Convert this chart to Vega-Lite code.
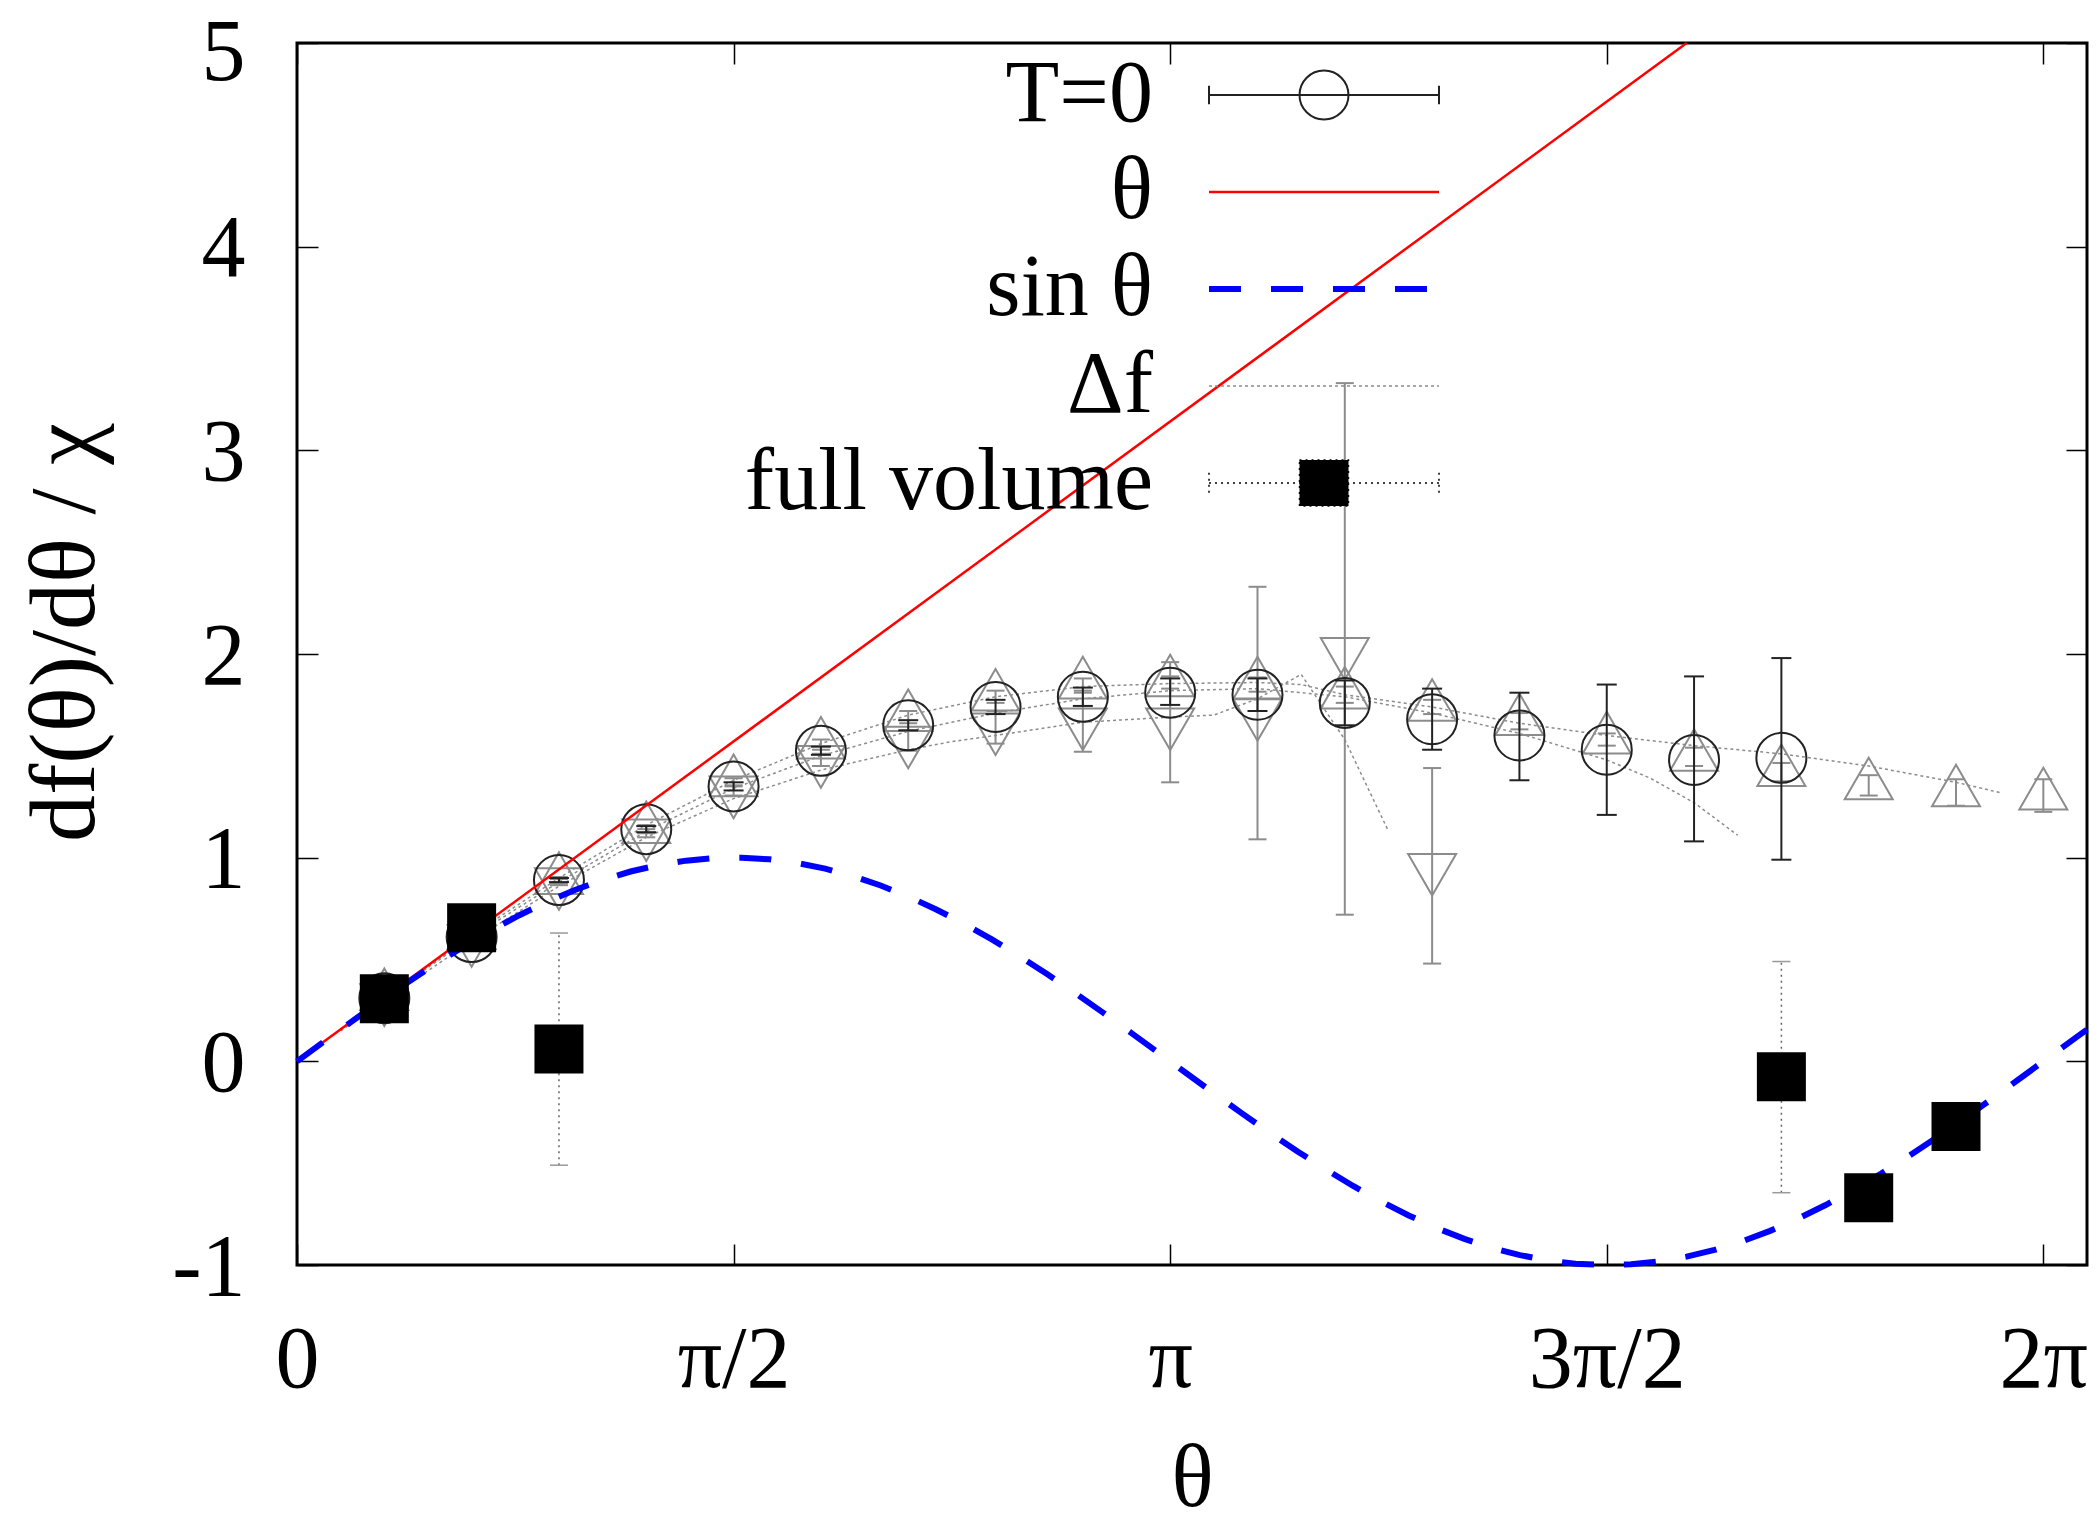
{
  "$schema": "https://vega.github.io/schema/vega-lite/v6.json",
  "width": 1790,
  "height": 1222,
  "autosize": "none",
  "padding": {"left": 297, "top": 43, "right": 12, "bottom": 258},
  "background": "white",
  "config": {
    "view": {"stroke": "black", "strokeWidth": 3},
    "font": "Liberation Serif, Times New Roman, Times, serif"
  },
  "resolve": {"axis": {"x": "independent", "y": "independent"}},
  "datasets": {
    "T0": [
      {"t": 0.3142, "v": 0.31, "lo": 0.305, "hi": 0.315},
      {"t": 0.6283, "v": 0.61, "lo": 0.6, "hi": 0.62},
      {"t": 0.9425, "v": 0.89, "lo": 0.88, "hi": 0.9},
      {"t": 1.2566, "v": 1.14, "lo": 1.125, "hi": 1.155},
      {"t": 1.5708, "v": 1.35, "lo": 1.33, "hi": 1.37},
      {"t": 1.885, "v": 1.525, "lo": 1.505, "hi": 1.545},
      {"t": 2.1991, "v": 1.65, "lo": 1.625, "hi": 1.675},
      {"t": 2.5133, "v": 1.74, "lo": 1.705, "hi": 1.775},
      {"t": 2.8274, "v": 1.79, "lo": 1.745, "hi": 1.835},
      {"t": 3.1416, "v": 1.81, "lo": 1.75, "hi": 1.88},
      {"t": 3.4558, "v": 1.8, "lo": 1.72, "hi": 1.88},
      {"t": 3.7699, "v": 1.76, "lo": 1.65, "hi": 1.87},
      {"t": 4.0841, "v": 1.68, "lo": 1.53, "hi": 1.83},
      {"t": 4.3982, "v": 1.6, "lo": 1.38, "hi": 1.81},
      {"t": 4.7124, "v": 1.53, "lo": 1.21, "hi": 1.85},
      {"t": 5.0265, "v": 1.48, "lo": 1.08, "hi": 1.89},
      {"t": 5.3407, "v": 1.49, "lo": 0.99, "hi": 1.98}
    ],
    "up": [
      {"t": 0.3142, "v": 0.32, "lo": 0.31, "hi": 0.33},
      {"t": 0.6283, "v": 0.62, "lo": 0.61, "hi": 0.63},
      {"t": 0.9425, "v": 0.89, "lo": 0.875, "hi": 0.905},
      {"t": 1.2566, "v": 1.14, "lo": 1.12, "hi": 1.16},
      {"t": 1.5708, "v": 1.37, "lo": 1.35, "hi": 1.39},
      {"t": 1.885, "v": 1.555, "lo": 1.53, "hi": 1.58},
      {"t": 2.1991, "v": 1.69, "lo": 1.66, "hi": 1.72},
      {"t": 2.5133, "v": 1.79, "lo": 1.76, "hi": 1.82},
      {"t": 2.8274, "v": 1.85, "lo": 1.82, "hi": 1.88},
      {"t": 3.1416, "v": 1.86, "lo": 1.83, "hi": 1.89},
      {"t": 3.4558, "v": 1.85, "lo": 1.815, "hi": 1.885},
      {"t": 3.7699, "v": 1.8, "lo": 1.76, "hi": 1.84},
      {"t": 4.0841, "v": 1.74, "lo": 1.705, "hi": 1.775},
      {"t": 4.3982, "v": 1.67, "lo": 1.63, "hi": 1.71},
      {"t": 4.7124, "v": 1.58, "lo": 1.55, "hi": 1.61},
      {"t": 5.0265, "v": 1.495, "lo": 1.45, "hi": 1.54},
      {"t": 5.3407, "v": 1.42, "lo": 1.375, "hi": 1.465},
      {"t": 5.6549, "v": 1.355, "lo": 1.305, "hi": 1.405},
      {"t": 5.969, "v": 1.32, "lo": 1.255, "hi": 1.385},
      {"t": 6.2832, "v": 1.305, "lo": 1.225, "hi": 1.385}
    ],
    "down": [
      {"t": 0.3142, "v": 0.31, "lo": 0.3, "hi": 0.32},
      {"t": 0.6283, "v": 0.6, "lo": 0.59, "hi": 0.61},
      {"t": 0.9425, "v": 0.88, "lo": 0.865, "hi": 0.895},
      {"t": 1.2566, "v": 1.12, "lo": 1.1, "hi": 1.14},
      {"t": 1.5708, "v": 1.33, "lo": 1.305, "hi": 1.355},
      {"t": 1.885, "v": 1.48, "lo": 1.45, "hi": 1.51},
      {"t": 2.1991, "v": 1.575, "lo": 1.525, "hi": 1.625},
      {"t": 2.5133, "v": 1.64, "lo": 1.56, "hi": 1.72},
      {"t": 2.8274, "v": 1.665, "lo": 1.52, "hi": 1.81},
      {"t": 3.1416, "v": 1.665, "lo": 1.37, "hi": 1.96},
      {"t": 3.4558, "v": 1.71, "lo": 1.09, "hi": 2.33},
      {"t": 3.7699, "v": 2.01, "lo": 0.72, "hi": 3.33},
      {"t": 4.0841, "v": 0.95, "lo": 0.48, "hi": 1.44}
    ],
    "df": [
      {"grp": "U", "t": 0.157, "v": 0.16},
      {"grp": "U", "t": 0.3142, "v": 0.31},
      {"grp": "U", "t": 0.6283, "v": 0.62},
      {"grp": "U", "t": 0.9425, "v": 0.9},
      {"grp": "U", "t": 1.2566, "v": 1.16},
      {"grp": "U", "t": 1.5708, "v": 1.38},
      {"grp": "U", "t": 1.885, "v": 1.56},
      {"grp": "U", "t": 2.1991, "v": 1.7},
      {"grp": "U", "t": 2.5133, "v": 1.79},
      {"grp": "U", "t": 2.8274, "v": 1.84},
      {"grp": "U", "t": 3.1416, "v": 1.855},
      {"grp": "U", "t": 3.4558, "v": 1.86},
      {"grp": "U", "t": 3.6128, "v": 1.85},
      {"grp": "U", "t": 3.7699, "v": 1.8},
      {"grp": "U", "t": 4.0841, "v": 1.74},
      {"grp": "U", "t": 4.3982, "v": 1.66},
      {"grp": "U", "t": 4.7124, "v": 1.6},
      {"grp": "U", "t": 5.0265, "v": 1.55},
      {"grp": "U", "t": 5.3407, "v": 1.51},
      {"grp": "U", "t": 5.6549, "v": 1.45},
      {"grp": "U", "t": 5.969, "v": 1.37},
      {"grp": "U", "t": 6.1261, "v": 1.32},
      {"grp": "M", "t": 0.157, "v": 0.155},
      {"grp": "M", "t": 0.3142, "v": 0.31},
      {"grp": "M", "t": 0.6283, "v": 0.61},
      {"grp": "M", "t": 0.9425, "v": 0.88},
      {"grp": "M", "t": 1.2566, "v": 1.13},
      {"grp": "M", "t": 1.5708, "v": 1.34},
      {"grp": "M", "t": 1.885, "v": 1.5},
      {"grp": "M", "t": 2.1991, "v": 1.62},
      {"grp": "M", "t": 2.5133, "v": 1.71},
      {"grp": "M", "t": 2.8274, "v": 1.78},
      {"grp": "M", "t": 3.1416, "v": 1.82},
      {"grp": "M", "t": 3.4558, "v": 1.83},
      {"grp": "M", "t": 3.7699, "v": 1.79},
      {"grp": "M", "t": 4.0841, "v": 1.71},
      {"grp": "M", "t": 4.3982, "v": 1.61},
      {"grp": "M", "t": 4.7124, "v": 1.48},
      {"grp": "M", "t": 4.8695, "v": 1.39},
      {"grp": "M", "t": 5.0265, "v": 1.27},
      {"grp": "M", "t": 5.1836, "v": 1.11},
      {"grp": "L", "t": 0.157, "v": 0.15},
      {"grp": "L", "t": 0.3142, "v": 0.3},
      {"grp": "L", "t": 0.6283, "v": 0.59},
      {"grp": "L", "t": 0.9425, "v": 0.86},
      {"grp": "L", "t": 1.2566, "v": 1.1},
      {"grp": "L", "t": 1.5708, "v": 1.29},
      {"grp": "L", "t": 1.885, "v": 1.43},
      {"grp": "L", "t": 2.1991, "v": 1.53},
      {"grp": "L", "t": 2.3562, "v": 1.57},
      {"grp": "L", "t": 2.5133, "v": 1.6},
      {"grp": "L", "t": 2.8274, "v": 1.665},
      {"grp": "L", "t": 3.1416, "v": 1.69},
      {"grp": "L", "t": 3.2987, "v": 1.7},
      {"grp": "L", "t": 3.4558, "v": 1.78},
      {"grp": "L", "t": 3.6128, "v": 1.9},
      {"grp": "L", "t": 3.7699, "v": 1.58},
      {"grp": "L", "t": 3.927, "v": 1.13}
    ],
    "fv": [
      {"t": 0.3142, "v": 0.307},
      {"t": 0.6283, "v": 0.656},
      {"t": 0.9425, "v": 0.06},
      {"t": 5.3407, "v": -0.076},
      {"t": 5.6549, "v": -0.67},
      {"t": 5.969, "v": -0.32}
    ],
    "fverr": [
      {"t": 0.9425, "lo": -0.51, "hi": 0.63},
      {"t": 5.3407, "lo": -0.645, "hi": 0.49}
    ],
    "theta": [
      {"t": 0, "v": 0, "series": "θ"},
      {"t": 5, "v": 5, "series": "θ"}
    ],
    "sin": [
      {"t": 0, "v": 0}, {"t": 0.1, "v": 0.0998}, {"t": 0.2, "v": 0.1987}, {"t": 0.3, "v": 0.2955},
      {"t": 0.4, "v": 0.3894}, {"t": 0.5, "v": 0.4794}, {"t": 0.6, "v": 0.5646}, {"t": 0.7, "v": 0.6442},
      {"t": 0.8, "v": 0.7174}, {"t": 0.9, "v": 0.7833}, {"t": 1.0, "v": 0.8415}, {"t": 1.1, "v": 0.8912},
      {"t": 1.2, "v": 0.932}, {"t": 1.3, "v": 0.9636}, {"t": 1.4, "v": 0.9854}, {"t": 1.5, "v": 0.9975},
      {"t": 1.6, "v": 0.9996}, {"t": 1.7, "v": 0.9917}, {"t": 1.8, "v": 0.9738}, {"t": 1.9, "v": 0.9463},
      {"t": 2.0, "v": 0.9093}, {"t": 2.1, "v": 0.8632}, {"t": 2.2, "v": 0.8085}, {"t": 2.3, "v": 0.7457},
      {"t": 2.4, "v": 0.6755}, {"t": 2.5, "v": 0.5985}, {"t": 2.6, "v": 0.5155}, {"t": 2.7, "v": 0.4274},
      {"t": 2.8, "v": 0.335}, {"t": 2.9, "v": 0.2392}, {"t": 3.0, "v": 0.1411}, {"t": 3.1, "v": 0.0416},
      {"t": 3.2, "v": -0.0584}, {"t": 3.3, "v": -0.1577}, {"t": 3.4, "v": -0.2555}, {"t": 3.5, "v": -0.3508},
      {"t": 3.6, "v": -0.4425}, {"t": 3.7, "v": -0.5298}, {"t": 3.8, "v": -0.6119}, {"t": 3.9, "v": -0.6878},
      {"t": 4.0, "v": -0.7568}, {"t": 4.1, "v": -0.8183}, {"t": 4.2, "v": -0.8716}, {"t": 4.3, "v": -0.9162},
      {"t": 4.4, "v": -0.9516}, {"t": 4.5, "v": -0.9775}, {"t": 4.6, "v": -0.9937}, {"t": 4.7, "v": -0.9999},
      {"t": 4.8, "v": -0.9962}, {"t": 4.9, "v": -0.9825}, {"t": 5.0, "v": -0.9589}, {"t": 5.1, "v": -0.9258},
      {"t": 5.2, "v": -0.8835}, {"t": 5.3, "v": -0.8323}, {"t": 5.4, "v": -0.7728}, {"t": 5.5, "v": -0.7055},
      {"t": 5.6, "v": -0.6313}, {"t": 5.7, "v": -0.5507}, {"t": 5.8, "v": -0.4646}, {"t": 5.9, "v": -0.3739},
      {"t": 6.0, "v": -0.2794}, {"t": 6.1, "v": -0.1822}, {"t": 6.2, "v": -0.0831}, {"t": 6.3, "v": 0.0168},
      {"t": 6.4, "v": 0.1165}, {"t": 6.44, "v": 0.156}
    ]
  },
  "encoding": {
    "x": {"field": "t", "type": "quantitative", "scale": {"domain": [0, 6.4403], "nice": false, "zero": false}, "axis": null}
  },
  "layer": [
    {
      "data": {"name": "df"},
      "mark": {"type": "line", "strokeDash": [3, 3], "strokeWidth": 1.5, "color": "#8c8c8c"},
      "encoding": {
        "y": {"field": "v", "type": "quantitative", "scale": {"domain": [-1, 5], "nice": false, "zero": false}, "axis": null},
        "detail": {"field": "grp", "type": "nominal"}
      }
    },
    {
      "data": {"name": "down"},
      "mark": {"type": "rule", "color": "#8c8c8c", "strokeWidth": 2},
      "encoding": {
        "y": {"field": "lo", "type": "quantitative", "scale": {"domain": [-1, 5], "nice": false, "zero": false}, "axis": null},
        "y2": {"field": "hi"}
      }
    },
    {
      "data": {"name": "down"},
      "mark": {"type": "tick", "orient": "horizontal", "color": "#8c8c8c", "size": 18, "thickness": 2, "opacity": 1},
      "encoding": {"y": {"field": "lo", "type": "quantitative", "scale": {"domain": [-1, 5], "nice": false, "zero": false}, "axis": null}}
    },
    {
      "data": {"name": "down"},
      "mark": {"type": "tick", "orient": "horizontal", "color": "#8c8c8c", "size": 18, "thickness": 2, "opacity": 1},
      "encoding": {"y": {"field": "hi", "type": "quantitative", "scale": {"domain": [-1, 5], "nice": false, "zero": false}, "axis": null}}
    },
    {
      "data": {"name": "up"},
      "mark": {"type": "rule", "color": "#8c8c8c", "strokeWidth": 2},
      "encoding": {
        "y": {"field": "lo", "type": "quantitative", "scale": {"domain": [-1, 5], "nice": false, "zero": false}, "axis": null},
        "y2": {"field": "hi"}
      }
    },
    {
      "data": {"name": "up"},
      "mark": {"type": "tick", "orient": "horizontal", "color": "#8c8c8c", "size": 18, "thickness": 2, "opacity": 1},
      "encoding": {"y": {"field": "lo", "type": "quantitative", "scale": {"domain": [-1, 5], "nice": false, "zero": false}, "axis": null}}
    },
    {
      "data": {"name": "up"},
      "mark": {"type": "tick", "orient": "horizontal", "color": "#8c8c8c", "size": 18, "thickness": 2, "opacity": 1},
      "encoding": {"y": {"field": "hi", "type": "quantitative", "scale": {"domain": [-1, 5], "nice": false, "zero": false}, "axis": null}}
    },
    {
      "data": {"name": "down"},
      "mark": {"type": "point", "shape": "M0,1.155L1,-0.577L-1,-0.577Z", "size": 2304, "filled": false, "color": "#8c8c8c", "strokeWidth": 2, "opacity": 1},
      "encoding": {"y": {"field": "v", "type": "quantitative", "scale": {"domain": [-1, 5], "nice": false, "zero": false}, "axis": null}}
    },
    {
      "data": {"name": "up"},
      "mark": {"type": "point", "shape": "M0,-1.155L1,0.577L-1,0.577Z", "size": 2304, "filled": false, "color": "#8c8c8c", "strokeWidth": 2, "opacity": 1},
      "encoding": {"y": {"field": "v", "type": "quantitative", "scale": {"domain": [-1, 5], "nice": false, "zero": false}, "axis": null}}
    },
    {
      "data": {"name": "T0"},
      "mark": {"type": "rule", "color": "#222222", "strokeWidth": 2},
      "encoding": {
        "y": {"field": "lo", "type": "quantitative", "scale": {"domain": [-1, 5], "nice": false, "zero": false}, "axis": null},
        "y2": {"field": "hi"}
      }
    },
    {
      "data": {"name": "T0"},
      "mark": {"type": "tick", "orient": "horizontal", "color": "#222222", "size": 20, "thickness": 2, "opacity": 1},
      "encoding": {"y": {"field": "lo", "type": "quantitative", "scale": {"domain": [-1, 5], "nice": false, "zero": false}, "axis": null}}
    },
    {
      "data": {"name": "T0"},
      "mark": {"type": "tick", "orient": "horizontal", "color": "#222222", "size": 20, "thickness": 2, "opacity": 1},
      "encoding": {"y": {"field": "hi", "type": "quantitative", "scale": {"domain": [-1, 5], "nice": false, "zero": false}, "axis": null}}
    },
    {
      "data": {"name": "T0"},
      "mark": {"type": "point", "shape": "circle", "size": 2500, "filled": false, "color": "#222222", "strokeWidth": 2, "opacity": 1},
      "encoding": {"y": {"field": "v", "type": "quantitative", "scale": {"domain": [-1, 5], "nice": false, "zero": false}, "axis": null}}
    },
    {
      "data": {"name": "theta"},
      "mark": {"type": "line", "strokeWidth": 2.5},
      "encoding": {
        "x": {"field": "t", "type": "quantitative", "scale": {"domain": [0, 6.4403], "nice": false, "zero": false},
          "axis": {"orient": "top", "values": [0, 1.5708, 3.1416, 4.7124, 6.2832], "labels": false, "title": null, "domain": false, "grid": false, "tickSize": -21, "tickColor": "black", "tickWidth": 1.5}},
        "y": {"field": "v", "type": "quantitative", "scale": {"domain": [-1, 5], "nice": false, "zero": false},
          "axis": {"orient": "right", "values": [-1, 0, 1, 2, 3, 4, 5], "labels": false, "title": null, "domain": false, "grid": false, "tickSize": -21, "tickColor": "black", "tickWidth": 1.5}},
        "color": {
          "field": "series", "type": "nominal",
          "scale": {"domain": ["T=0", "θ", "sin θ", "Δf", "full volume"], "range": ["#222222", "#ff0000", "#0000ff", "#8c8c8c", "#000000"]},
          "legend": {
            "orient": "none", "legendX": 983, "legendY": 8, "title": null, "padding": 0, "offset": 0,
            "labelFont": "Liberation Serif, Times New Roman, Times, serif", "labelFontSize": 88, "labelColor": "black", "labelAlign": "right", "labelBaseline": "middle",
            "labelOffset": -215, "labelLimit": 2000, "symbolSize": 52900, "rowPadding": 9,
            "encode": {
              "symbols": {
                "update": {
                  "shape": {"signal": "datum.value === 'T=0' ? 'M-1,0H1M-1,-0.08V0.08M1,-0.08V0.08M-0.213,0A0.213,0.213,0,1,0,0.213,0A0.213,0.213,0,1,0,-0.213,0' : datum.value === 'full volume' ? 'M-1,0H1M-1,-0.09V0.09M1,-0.09V0.09M-0.213,-0.2H0.213V0.2H-0.213Z' : 'M-1,0H1'"},
                  "size": {"value": 52900},
                  "fill": {"signal": "datum.value === 'full volume' ? '#000000' : 'transparent'"},
                  "stroke": {"signal": "datum.value === 'T=0' ? '#222222' : datum.value === 'θ' ? '#ff0000' : datum.value === 'sin θ' ? '#0000ff' : datum.value === 'Δf' ? '#8c8c8c' : '#777777'"},
                  "strokeWidth": {"signal": "datum.value === 'sin θ' ? 6 : datum.value === 'θ' ? 2.5 : datum.value === 'T=0' ? 2 : 1.5"},
                  "strokeDash": {"signal": "datum.value === 'sin θ' ? [32, 30] : datum.value === 'Δf' ? [3, 3] : datum.value === 'full volume' ? [2, 4] : []"},
                  "opacity": {"value": 1}
                }
              }
            }
          }
        }
      }
    },
    {
      "data": {"name": "sin"},
      "mark": {"type": "line", "strokeWidth": 6, "color": "#0000ff", "strokeDash": [32, 30]},
      "encoding": {
        "x": {"field": "t", "type": "quantitative", "scale": {"domain": [0, 6.4403], "nice": false, "zero": false},
          "axis": {"orient": "bottom", "values": [0, 1.5708, 3.1416, 4.7124, 6.2832],
            "labelExpr": "datum.value < 0.1 ? '0' : datum.value < 2 ? 'π/2' : datum.value < 4 ? 'π' : datum.value < 5 ? '3π/2' : '2π'",
            "domain": false, "grid": false, "tickSize": -21, "tickColor": "black", "tickWidth": 1.5,
            "labelPadding": 72, "labelFont": "Liberation Serif, Times New Roman, Times, serif", "labelFontSize": 88, "labelColor": "black", "labelFlush": false, "labelOverlap": false,
            "title": "θ", "titleFont": "Liberation Serif, Times New Roman, Times, serif", "titleFontSize": 88, "titleFontWeight": "normal", "titleColor": "black", "titleY": 240, "titleBaseline": "alphabetic"}},
        "y": {"field": "v", "type": "quantitative", "scale": {"domain": [-1, 5], "nice": false, "zero": false},
          "axis": {"orient": "left", "values": [-1, 0, 1, 2, 3, 4, 5],
            "labelExpr": "datum.value < 0 ? '-' + abs(datum.value) : '' + datum.value",
            "domain": false, "grid": false, "tickSize": -21, "tickColor": "black", "tickWidth": 1.5,
            "labelPadding": 73, "labelOffset": {"condition": {"test": "datum.value === 5", "value": 10}, "value": 3},
            "labelFont": "Liberation Serif, Times New Roman, Times, serif", "labelFontSize": 88, "labelColor": "black", "labelFlush": false, "labelOverlap": false,
            "title": "df(θ)/dθ / χ", "titleFont": "Liberation Serif, Times New Roman, Times, serif", "titleFontSize": 94, "titleFontWeight": "normal", "titleColor": "black",
            "titleX": -232, "titleY": 589, "titleAngle": 270, "titleAlign": "center", "titleBaseline": "middle"}}
      }
    },
    {
      "data": {"name": "fverr"},
      "mark": {"type": "rule", "color": "#666666", "strokeWidth": 1.5, "strokeDash": [2, 4]},
      "encoding": {
        "y": {"field": "lo", "type": "quantitative", "scale": {"domain": [-1, 5], "nice": false, "zero": false}, "axis": null},
        "y2": {"field": "hi"}
      }
    },
    {
      "data": {"name": "fverr"},
      "mark": {"type": "tick", "orient": "horizontal", "color": "#999999", "size": 18, "thickness": 1.5, "opacity": 1},
      "encoding": {"y": {"field": "lo", "type": "quantitative", "scale": {"domain": [-1, 5], "nice": false, "zero": false}, "axis": null}}
    },
    {
      "data": {"name": "fverr"},
      "mark": {"type": "tick", "orient": "horizontal", "color": "#999999", "size": 18, "thickness": 1.5, "opacity": 1},
      "encoding": {"y": {"field": "hi", "type": "quantitative", "scale": {"domain": [-1, 5], "nice": false, "zero": false}, "axis": null}}
    },
    {
      "data": {"name": "fv"},
      "mark": {"type": "point", "shape": "square", "size": 2401, "filled": true, "color": "#000000", "opacity": 1},
      "encoding": {"y": {"field": "v", "type": "quantitative", "scale": {"domain": [-1, 5], "nice": false, "zero": false}, "axis": null}}
    }
  ]
}
